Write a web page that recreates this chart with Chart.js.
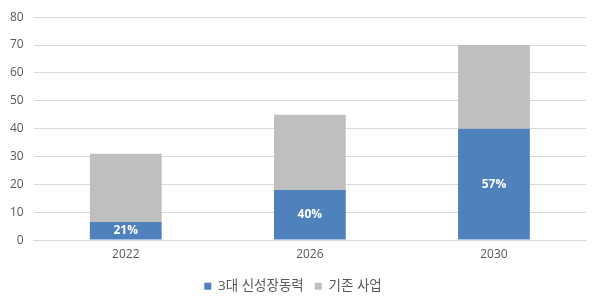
<!DOCTYPE html>
<html>
<head>
<meta charset="utf-8">
<script src="https://cdn.jsdelivr.net/npm/chart.js@4"></script>
<style>
  html, body { margin: 0; padding: 0; background: #fff; }
  #wrap { width: 600px; height: 306px; }
</style>
</head>
<body>
<div id="wrap"><canvas id="myChart"></canvas></div>
<script>
const years = ['2022', '2026', '2030'];
const newGrowth = [6.5, 18, 40];      // 3대 신성장동력
const existing = [24.5, 27, 30];      // 기존 사업
const shareLabels = ['21%', '40%', '57%'];

const fontFamily = '"Open Sans", "Noto Sans CJK KR", sans-serif';

// draw the share % inside the blue bars
const shareLabelPlugin = {
    id: 'shareLabels',
    afterDatasetsDraw(chart) {
        const c = chart.ctx;
        const meta = chart.getDatasetMeta(0);
        c.save();
        c.fillStyle = '#ffffff';
        c.font = 'bold 12px ' + fontFamily;
        c.textAlign = 'center';
        c.textBaseline = 'middle';
        meta.data.forEach((bar, i) => {
            const y = (bar.y + bar.base) / 2;
            c.fillText(shareLabels[i], bar.x, y);
        });
        c.restore();
    }
};

const ctx = document.getElementById('myChart').getContext('2d');

const myChart = new Chart(ctx, {
    type: 'bar',
    plugins: [shareLabelPlugin],
    data: {
        labels: years,
        datasets: [
            {
                label: '3대 신성장동력',
                data: newGrowth,
                backgroundColor: '#4f81bd',
                barPercentage: 0.39,
                categoryPercentage: 1,
            },
            {
                label: '기존 사업',
                data: existing,
                backgroundColor: '#bfbfbf',
                barPercentage: 0.39,
                categoryPercentage: 1,
            },
        ]
    },
    options: {
        responsive: true,
        maintainAspectRatio: false,
        animation: false,
        layout: {
            padding: { left: 0, right: 14, top: 4, bottom: 3 }
        },
        plugins: {
            legend: {
                position: 'bottom',
                labels: {
                    color: '#595959',
                    font: { size: 13.5, family: fontFamily },
                    boxWidth: 7,
                    boxHeight: 7,
                    padding: 11,
                },
            },
            tooltip: { enabled: false },
        },
        scales: {
            x: {
                stacked: true,
                grid: { display: false, drawTicks: false },
                border: { display: true, color: '#d9d9d9' },
                ticks: {
                    color: '#595959',
                    font: { size: 12, family: fontFamily },
                    padding: 7,
                },
            },
            y: {
                stacked: true,
                min: 0,
                max: 80,
                grid: { color: '#d9d9d9', drawTicks: false },
                border: { display: false },
                ticks: {
                    stepSize: 10,
                    color: '#595959',
                    font: { size: 12, family: fontFamily },
                    padding: 10,
                },
            }
        }
    }
});
</script>
</body>
</html>
